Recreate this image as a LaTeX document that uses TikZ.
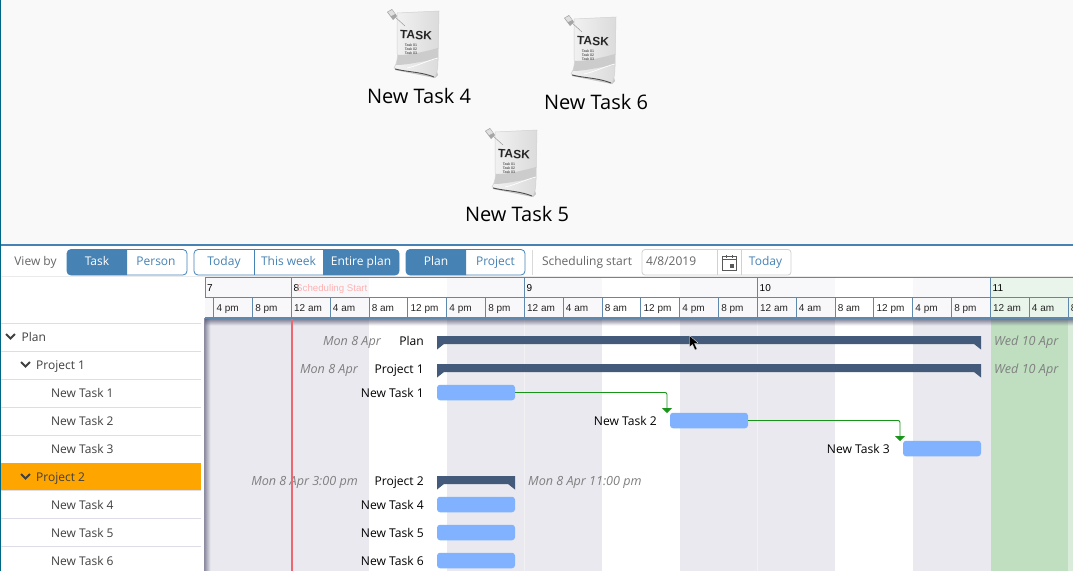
\documentclass[tikz,border=0pt]{standalone}
\usepackage{fontspec}
\setmainfont{Open Sans}
\newfontfamily\hdrfont{Liberation Sans}
\usetikzlibrary{arrows.meta}
\definecolor{btnblue}{HTML}{4682B4}
\definecolor{hdrline}{HTML}{5F88AC}
\definecolor{band}{HTML}{E9E9EF}
\definecolor{bandhdr}{HTML}{F8F8FB}
\definecolor{greenband}{HTML}{BFDFC0}
\definecolor{greenhdr}{HTML}{E9F5EA}
\definecolor{summary}{HTML}{435A7A}
\definecolor{taskblue}{HTML}{80B2FF}
\definecolor{linkgreen}{HTML}{189418}
\definecolor{rowline}{HTML}{DDDDE8}
\definecolor{rowpick}{HTML}{FFA500}
\definecolor{startred}{HTML}{EE6670}
\definecolor{shadowcol}{HTML}{5A5A78}
\tikzset{
	taskicon/.pic={
		\fill[black!22] (-2,57) -- (38,65) -- (41,62) -- (39,55) -- cycle;
		\shade[left color=black!5, right color=black!14, draw=black!18, line width=0.5] (0,0) -- (42,-2) -- (41,48) .. controls (41,55) and (40,60) .. (38,64) .. controls (25,60) and (10,60) .. (-3,55) .. controls (0,50) and (1,45) .. (0,38) -- cycle;
		\fill[black!20] (1,42) .. controls (15,42) and (30,38) .. (41,35) -- (41,46) .. controls (25,48) and (12,52) .. (-1,52) -- cycle;
		\draw[white, line width=0.7] (10,55) .. controls (20,53) and (32,47) .. (41,45);
		\draw[black!70, line width=0.9] (-2,56) .. controls (10,59) and (25,59) .. (37,64);
		\draw[black!40, line width=0.5] (-3,3) -- (8,13);
		\fill[black!35] (-10,-1) -- (-5,-4) -- (0,3) -- (-4,7) -- cycle;
		\fill[black!12] (-9,-1) -- (-5,-3) -- (-2,1) -- (-6,3) -- cycle;
		\node[font=\hdrfont\bfseries\fontsize{12}{14}\selectfont, text=black!85, rotate=-3, inner sep=0] (word) at (19,22) {TASK};
		\node[font=\hdrfont\fontsize{3.6}{4.2}\selectfont, text=black!85, align=left, inner sep=0] (lines) at (14,36) {Task 01\\Task 02\\Task 03};
	}
}
\begin{document}
\begin{tikzpicture}[
	x=1pt, y=-1pt,
	capline/.style={text height=8.7, text depth=0, inner sep=0},
	toptext/.style={font=\fontsize{20}{24}\selectfont, text=black, inner sep=0},
	bartext/.style={capline, font=\fontsize{12.1}{14}\selectfont, text=black, anchor=east},
	datetext/.style={capline, font=\itshape\fontsize{12.6}{14}\selectfont, text=black!50},
	treetext/.style={capline, font=\fontsize{12}{14}\selectfont, text=black!75, anchor=west},
	btn/.style={capline, font=\fontsize{12}{14}\selectfont, text=btnblue},
	btnon/.style={btn, text=white},
	tool/.style={capline, font=\fontsize{12}{14}\selectfont, text=black!60},
	hour/.style={text height=7.2, text depth=0, inner sep=0, font=\hdrfont\fontsize{10}{12}\selectfont, text=black!85, anchor=west},
	taskbar/.style={fill=taskblue, rounded corners=3, minimum width=78, minimum height=15.5, inner sep=0},
	chevron/.style={line width=1.8, black!75},
	link/.style={linkgreen, line width=0.9, rounded corners=2, -{Triangle[width=10,length=5]}}
]
\clip[use as bounding box] (0,0) rectangle (1073,571);
\fill[white] (0,0) rectangle (1073,571);
\fill[black!2.5] (0,0) rectangle (1073,245);
\pic (ic4) at (397,13) {taskicon};
\pic (ic6) at (574,19) {taskicon};
\pic (ic5) at (495,132) {taskicon};
\node[toptext] (n4) at (419,96) {New Task 4};
\node[toptext] (n6) at (596,102) {New Task 6};
\node[toptext] (n5) at (517,214) {New Task 5};

\foreach \xa/\xb/\c/\e in {205/369/band/bandhdr, 369/447/white/white, 447/602/band/bandhdr, 602/680/white/white, 680/835/band/bandhdr, 835/913/white/white, 913/990.5/band/bandhdr, 990.5/1068/greenband/greenhdr, 1068/1073/greenband!60/greenhdr}{
	\fill[\c] (\xa,318) rectangle (\xb,571);
	\fill[\e] (\xa,278) rectangle (\xb,318);
}
\draw[black!5, line width=0.6] (524.5,318) -- (524.5,571);
\draw[black!5, line width=0.6] (757.5,318) -- (757.5,571);
\foreach \i in {0,...,7}{
	\fill[shadowcol, opacity=0.85-0.115*\i] (205,318+\i) rectangle (1073,319+\i);
	\fill[shadowcol, opacity=0.7-0.11*\i] (204+\i,318) rectangle (205+\i,571);
}

\draw[hdrline, line width=1] (205,277.5) -- (1073,277.5);
\draw[hdrline, line width=1.2] (205,297.5) -- (1073,297.5);
\draw[hdrline, line width=1.2] (205,318) -- (1073,318);
\foreach \dn/\xd [count=\k] in {7/205, 8/291.5, 9/524.5, 10/757.5, 11/990.5}{
	\draw[hdrline, line width=1] (\xd,277.5) -- (\xd,297.5);
	\node[hour, text=black] (d\k) at (\xd+2,288) {\dn};
}
\foreach \l [count=\k from 0] in {4 pm,8 pm,12 am,4 am,8 am,12 pm,4 pm,8 pm,12 am,4 am,8 am,12 pm,4 pm,8 pm,12 am,4 am,8 am,12 pm,4 pm,8 pm,12 am,4 am,8 am}{
	\pgfmathsetmacro\hx{213.8+38.83*\k}
	\draw[hdrline, line width=1] (\hx,297.5) -- (\hx,318);
	\node[hour] (h\k) at (\hx+2.5,308) {\l};
}
\node[hour, text=red!30, font=\hdrfont\fontsize{9.7}{12}\selectfont] (sched) at (296,288) {Scheduling Start};

\fill[black!8] (0,275.5) rectangle (1073,277);
\fill[white] (0,277) rectangle (205,318);
\fill[btnblue] (0,244) rectangle (1073,246);
\fill[black!80!blue!60!cyan] (0,0) rectangle (1.2,571);

\node[tool] (viewby) at (35.5,261.5) {View by};
\foreach \xa/\xb/\xc in {67/127/187, 194/323/399, 406/466/525}{
	\draw[btnblue, rounded corners=4, line width=0.8] (\xa,249.5) rectangle (\xc,275);
}
\fill[btnblue] (127,249.5) -- (127,275) [rounded corners=4] -- (67,275) -- (67,249.5) -- (127,249.5);
\fill[btnblue] (323,249.5) -- (323,275) [rounded corners=4] -- (399,275) -- (399,249.5) -- (323,249.5);
\fill[btnblue] (466,249.5) -- (466,275) [rounded corners=4] -- (406,275) -- (406,249.5) -- (466,249.5);
\draw[btnblue, line width=0.8] (254,249.5) -- (254,275);
\node[btnon] (task) at (97,261.5) {Task};
\node[btn] (person) at (156,261.5) {Person};
\node[btn] (today) at (224,261.5) {Today};
\node[btn] (week) at (288.5,261.5) {This week};
\node[btnon] (entire) at (361,261.5) {Entire plan};
\node[btnon] (plan) at (436,261.5) {Plan};
\node[btn] (project) at (495.5,261.5) {Project};
\draw[black!15, line width=0.8] (532.5,249.5) -- (532.5,275);
\node[tool] (start) at (587,261.5) {Scheduling start};
\draw[black!18, rounded corners=3, line width=0.8] (642,249.5) rectangle (791,275);
\draw[black!18, line width=0.8] (717,249.5) -- (717,275) (741,249.5) -- (741,275);
\node[tool, anchor=west] (datefield) at (646,261.5) {4/8/2019};
\draw[black!65, line width=0.8] (722.5,256.5) rectangle (736,270) (722.5,259.5) -- (736,259.5) (726,255) -- (726,257.5) (732.5,255) -- (732.5,257.5);
\fill[black!65] (730,263.5) rectangle (734,268);
\node[btn] (today2) at (765.5,261.5) {Today};

\fill[rowpick] (1.2,463) rectangle (201,490.5);
\foreach \y in {323,351,379,407,435,490.5,518,546}{
	\draw[rowline, line width=0.8] (1.2,\y) -- (201,\y);
}
\foreach \t/\xt/\yt [count=\k] in {Plan/21.5/337, Project 1/36/365, New Task 1/51/393, New Task 2/51/421, New Task 3/51/449, Project 2/36/477, New Task 4/51/505, New Task 5/51/533, New Task 6/51/561}{
	\node[treetext] (r\k) at (\xt,\yt) {\t};
}
\foreach \xc/\yc in {10.5/336, 25.5/364, 25.5/476}{
	\draw[chevron] (\xc-4.5,\yc-2) -- (\xc,\yc+2.5) -- (\xc+4.5,\yc-2);
}

\foreach \xa/\xb/\ya in {437/981/336, 437/981/364, 437/515/476}{
	\fill[summary] (\xa,\ya) -- (\xb,\ya) -- (\xb,\ya+13.5) -- (\xb-7,\ya+8) -- (\xa+7,\ya+8) -- (\xa,\ya+13.5) -- cycle;
}
\node[taskbar] (t1) at (476,392.5) {};
\node[taskbar] (t2) at (709,420.5) {};
\node[taskbar] (t3) at (942,448.5) {};
\node[taskbar] (t4) at (476,504.5) {};
\node[taskbar] (t5) at (476,532.5) {};
\node[taskbar] (t6) at (476,560.5) {};
\coordinate (in2) at (667,413);
\coordinate (in3) at (900,441);
\draw[link] (t1.east) -| (in2);
\draw[link] (t2.east) -| (in3);

\node[bartext] (l0) at (424,341) {Plan};
\node[bartext] (l1) at (424,369) {Project 1};
\node[bartext] (l2) at (424,393) {New Task 1};
\node[bartext] (l3) at (657,421) {New Task 2};
\node[bartext] (l4) at (890,449) {New Task 3};
\node[bartext] (l5) at (424,481) {Project 2};
\node[bartext] (l6) at (424,505) {New Task 4};
\node[bartext] (l7) at (424,533) {New Task 5};
\node[bartext] (l8) at (424,561) {New Task 6};
\node[datetext, anchor=east] (s0) at (381,341) {Mon 8 Apr};
\node[datetext, anchor=east] (s1) at (358,369) {Mon 8 Apr};
\node[datetext, anchor=east] (s2) at (358,481) {Mon 8 Apr 3:00 pm};
\node[datetext, anchor=west] (e0) at (994,341) {Wed 10 Apr};
\node[datetext, anchor=west] (e1) at (994,369) {Wed 10 Apr};
\node[datetext, anchor=west] (e2) at (528,481) {Mon 8 Apr 11:00 pm};

\fill[startred] (290.8,318.6) rectangle (292.6,571);
\fill[black, draw=white, line width=0.3] (689.5,335.5) -- (689.5,347) -- (692.5,344.5) -- (695,350) -- (697,349) -- (694.5,343.5) -- (698,343) -- cycle;
\end{tikzpicture}
\end{document}
